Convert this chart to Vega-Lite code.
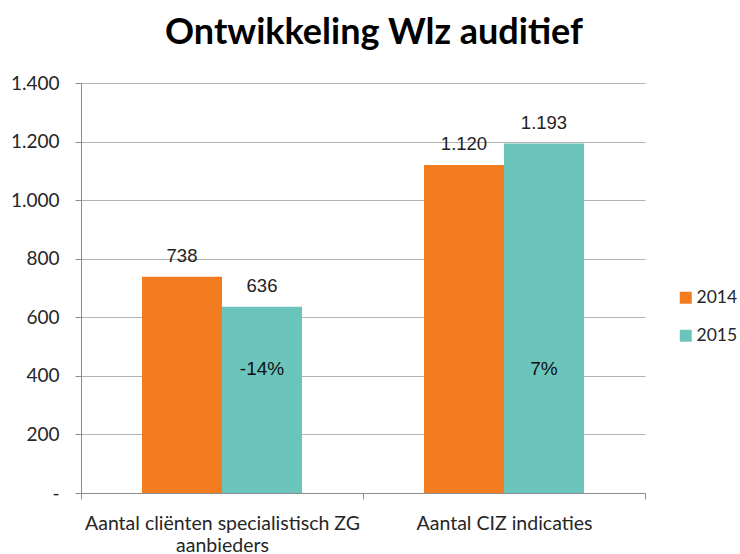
{
  "$schema": "https://vega.github.io/schema/vega-lite/v6.json",
  "width": 564,
  "height": 410,
  "autosize": {"type": "none"},
  "padding": {"left": 81, "top": 83, "right": 95, "bottom": 61},
  "background": "white",
  "title": {"text": "Ontwikkeling Wlz auditief", "font": "Lato", "fontSize": 36, "fontWeight": "bold", "color": "#000000", "anchor": "middle", "frame": "group", "dx": 11, "offset": 22},
  "config": {"view": {"stroke": null}},
  "data": {"values": [
    {"cat": "Aantal cliënten specialistisch ZG aanbieders", "year": "2014", "value": 738, "label": "738", "change": ""},
    {"cat": "Aantal cliënten specialistisch ZG aanbieders", "year": "2015", "value": 636, "label": "636", "change": "-14%"},
    {"cat": "Aantal CIZ indicaties", "year": "2014", "value": 1120, "label": "1.120", "change": ""},
    {"cat": "Aantal CIZ indicaties", "year": "2015", "value": 1193, "label": "1.193", "change": "7%"}
  ]},
  "encoding": {
    "x": {
      "field": "cat", "type": "nominal", "sort": null,
      "scale": {"paddingInner": 0, "paddingOuter": 0},
      "axis": {
        "title": null, "labelAngle": 0, "tickBand": "extent", "grid": false,
        "domainColor": "#8c8c8c", "tickColor": "#8c8c8c", "tickSize": 6,
        "labelFont": "Lato", "labelFontSize": 19.5, "labelColor": "#262626",
        "labelPadding": 15, "labelLimit": 400, "labelLineHeight": 22,
        "labelExpr": "datum.label == 'Aantal cliënten specialistisch ZG aanbieders' ? ['Aantal cliënten specialistisch ZG', 'aanbieders'] : datum.label"
      }
    },
    "xOffset": {"field": "year", "type": "nominal", "scale": {"paddingInner": 0, "paddingOuter": 0.7625}}
  },
  "layer": [
    {
      "mark": {"type": "bar"},
      "encoding": {
        "y": {
          "field": "value", "type": "quantitative",
          "scale": {"domain": [0, 1400], "nice": false},
          "axis": {
            "title": null, "values": [0, 200, 400, 600, 800, 1000, 1200, 1400], "format": ",d",
            "labelExpr": "datum.value == 0 ? '-' : replace(datum.label, ',', '.')",
            "domainColor": "#8c8c8c", "tickColor": "#8c8c8c", "tickSize": 6,
            "gridColor": "#b3b3b3", "labelFont": "Lato", "labelFontSize": 19, "labelColor": "#262626",
            "labelPadding": 16
          }
        },
        "color": {
          "field": "year", "type": "nominal",
          "scale": {"domain": ["2014", "2015"], "range": ["#F47C20", "#6CC5BD"]},
          "legend": {"orient": "none", "legendX": 596, "legendY": 206, "title": null, "symbolType": "square", "symbolSize": 144, "symbolStrokeWidth": 0, "labelFont": "Lato", "labelFontSize": 17.5, "labelColor": "#262626", "rowPadding": 19, "labelOffset": 2}
        }
      }
    },
    {
      "mark": {"type": "text", "baseline": "alphabetic", "dy": -15, "font": "Liberation Sans", "fontSize": 18.5, "color": "#222222"},
      "encoding": {
        "y": {"field": "value", "type": "quantitative"},
        "text": {"field": "label"}
      }
    },
    {
      "transform": [{"filter": "datum.change != ''"}],
      "mark": {"type": "text", "baseline": "middle", "font": "Liberation Sans", "fontSize": 19, "color": "#111111"},
      "encoding": {
        "y": {"datum": 423},
        "text": {"field": "change"}
      }
    }
  ]
}
